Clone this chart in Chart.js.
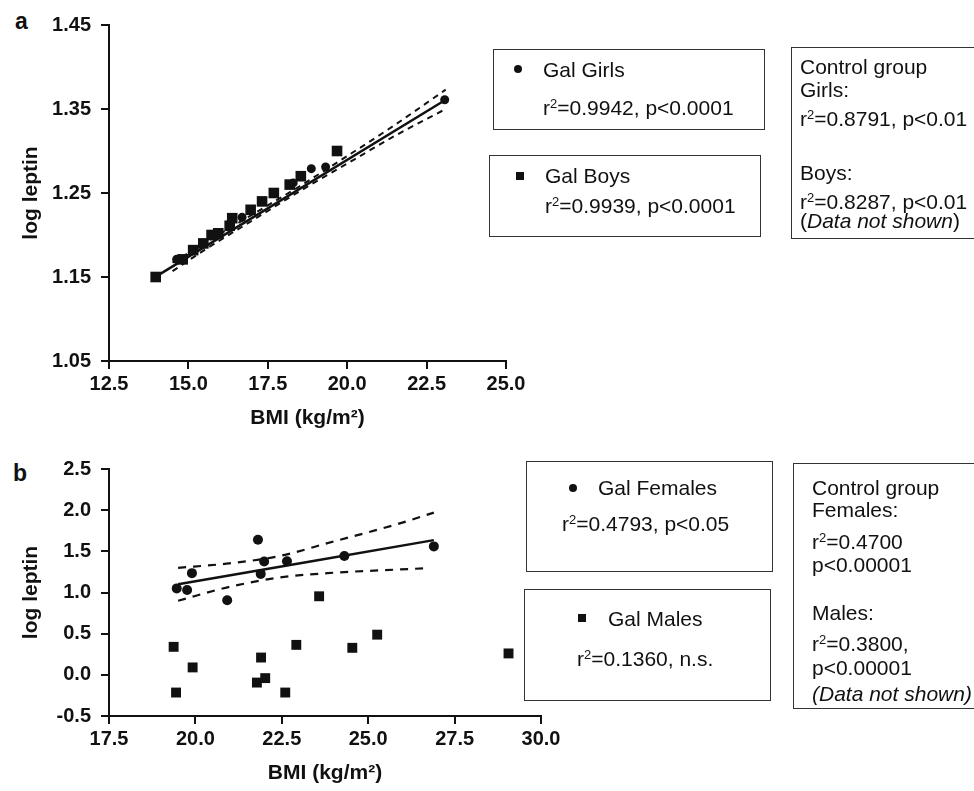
<!DOCTYPE html>
<html lang="en">
<head>
<meta charset="UTF-8">
<title>log leptin vs BMI</title>
<style>
  body {
    margin: 0;
    background: #fff;
    width: 974px;
    height: 791px;
    position: relative;
    overflow: hidden;
    font-family: "Liberation Sans", Arial, sans-serif;
    color: #111;
  }
  .wrap { position: absolute; }
  .box { position: absolute; border: 1.5px solid #333; box-sizing: border-box; }
  .t { position: absolute; font-size: 21px; line-height: 21px; white-space: nowrap; }
  .t sup { font-size: 0.62em; line-height: 0; vertical-align: 0.55em; }
  .panel { position: absolute; font-weight: bold; font-size: 23px; line-height: 23px; }
  .dot { position: absolute; width: 8px; height: 8px; border-radius: 50%; background: #111; }
  .sq { position: absolute; width: 8px; height: 8px; background: #111; }
</style>
<script src="https://cdn.jsdelivr.net/npm/chart.js"></script>
</head>
<body>

<div class="panel" style="left:15px; top:10px;">a</div>
<div class="panel" style="left:13px; top:462px;">b</div>

<div class="wrap" style="left:0; top:0;"><canvas id="chartA" width="560" height="440"></canvas></div>
<div class="wrap" style="left:0; top:430px;"><canvas id="chartB" width="600" height="361"></canvas></div>

<!-- panel a legend boxes -->
<div class="box" style="left:493px; top:49px; width:272px; height:81px;"></div>
<div class="dot" style="left:514px; top:65px;"></div>
<div class="t" style="left:543px; top:59px;">Gal Girls</div>
<div class="t" style="left:543px; top:97px;">r<sup>2</sup>=0.9942, p&lt;0.0001</div>

<div class="box" style="left:489px; top:155px; width:272px; height:82px;"></div>
<div class="sq" style="left:516px; top:172px;"></div>
<div class="t" style="left:545px; top:165px;">Gal Boys</div>
<div class="t" style="left:545px; top:195px;">r<sup>2</sup>=0.9939, p&lt;0.0001</div>

<div class="box" style="left:791px; top:47px; width:200px; height:192px;"></div>
<div class="t" style="left:800px; top:56px;">Control group</div>
<div class="t" style="left:800px; top:79px;">Girls:</div>
<div class="t" style="left:800px; top:108px;">r<sup>2</sup>=0.8791, p&lt;0.01</div>
<div class="t" style="left:800px; top:162px;">Boys:</div>
<div class="t" style="left:800px; top:191px;">r<sup>2</sup>=0.8287, p&lt;0.01</div>
<div class="t" style="left:800px; top:210px;">(<i>Data not shown</i>)</div>

<!-- panel b legend boxes -->
<div class="box" style="left:526px; top:461px; width:247px; height:111px;"></div>
<div class="dot" style="left:569px; top:484px;"></div>
<div class="t" style="left:598px; top:477px;">Gal Females</div>
<div class="t" style="left:562px; top:513px;">r<sup>2</sup>=0.4793, p&lt;0.05</div>

<div class="box" style="left:524px; top:589px; width:247px; height:112px;"></div>
<div class="sq" style="left:578px; top:614px;"></div>
<div class="t" style="left:608px; top:608px;">Gal Males</div>
<div class="t" style="left:577px; top:648px;">r<sup>2</sup>=0.1360, n.s.</div>

<div class="box" style="left:793px; top:463px; width:200px; height:246px;"></div>
<div class="t" style="left:812px; top:477px;">Control group</div>
<div class="t" style="left:812px; top:499px;">Females:</div>
<div class="t" style="left:812px; top:531px;">r<sup>2</sup>=0.4700</div>
<div class="t" style="left:812px; top:554px;">p&lt;0.00001</div>
<div class="t" style="left:812px; top:602px;">Males:</div>
<div class="t" style="left:812px; top:633px;">r<sup>2</sup>=0.3800,</div>
<div class="t" style="left:812px; top:657px;">p&lt;0.00001</div>
<div class="t" style="left:812px; top:683px;"><i>(Data not shown)</i></div>

<script>
// ---- panel a: Gal girls / boys ----
const xTicksA = [12.5, 15.0, 17.5, 20.0, 22.5, 25.0];
const yTicksA = [1.05, 1.15, 1.25, 1.35, 1.45];

const girlsBMI    = [14.63, 16.69, 18.30, 18.87, 19.32, 23.07];
const girlsLeptin = [1.171, 1.221, 1.262, 1.279, 1.281, 1.361];

const boysBMI    = [13.97, 14.82, 15.15, 15.47, 15.73, 15.94, 16.30, 16.38, 16.96, 17.32, 17.69, 18.19, 18.54, 19.68];
const boysLeptin = [1.150, 1.171, 1.182, 1.190, 1.200, 1.202, 1.211, 1.220, 1.230, 1.240, 1.250, 1.260, 1.270, 1.300];

// fitted line and 95% bands
const fitA_x = [14.0, 23.1];
const fitA_y = [1.151, 1.361];
const bandA_x  = [14.5, 15.5, 17.0, 18.5, 20.0, 21.5, 23.1];
const bandA_hi = [1.167, 1.190, 1.224, 1.258, 1.294, 1.331, 1.373];
const bandA_lo = [1.157, 1.182, 1.217, 1.252, 1.285, 1.318, 1.350];

// ---- panel b: Gal females / males ----
const xTicksB = [17.5, 20.0, 22.5, 25.0, 27.5, 30.0];
const yTicksB = [-0.5, 0.0, 0.5, 1.0, 1.5, 2.0, 2.5];

const femalesBMI    = [19.46, 19.76, 19.90, 20.92, 21.81, 21.89, 21.99, 22.65, 24.31, 26.90];
const femalesLeptin = [1.05, 1.03, 1.235, 0.906, 1.64, 1.226, 1.376, 1.38, 1.443, 1.56];

const malesBMI    = [19.37, 19.44, 19.92, 21.78, 21.90, 22.02, 22.60, 22.92, 23.58, 24.54, 25.26, 29.06];
const malesLeptin = [0.34, -0.215, 0.09, -0.094, 0.21, -0.04, -0.215, 0.364, 0.954, 0.328, 0.488, 0.26];

const fitB_x = [19.5, 26.9];
const fitB_y = [1.10, 1.636];
const bandB_hi_x = [19.5, 20.9, 22.4, 24.0, 25.8, 26.9];
const bandB_hi   = [1.30, 1.35, 1.44, 1.62, 1.825, 1.97];
const bandB_lo_x = [19.5, 20.9, 22.4, 24.0, 25.4, 26.7];
const bandB_lo   = [0.90, 1.06, 1.18, 1.24, 1.27, 1.295];

const FONT = '"Liberation Sans", Arial, sans-serif';

function pts(xs, ys) {
    return xs.map((x, i) => ({ x: x, y: ys[i] }));
}

function pointSet(xs, ys, style, r) {
    return {
        data: pts(xs, ys),
        showLine: false,
        pointStyle: style,
        pointRadius: r,
        pointBackgroundColor: '#111',
        pointBorderColor: '#111',
        pointBorderWidth: 0
    };
}

function lineSet(xs, ys, width, dash) {
    return {
        data: pts(xs, ys),
        showLine: true,
        borderColor: '#111',
        borderWidth: width,
        borderDash: dash,
        pointRadius: 0,
        cubicInterpolationMode: 'monotone',
        fill: false
    };
}

function axis(min, max, tickList, digits, extra) {
    return Object.assign({
        type: 'linear',
        min: min,
        max: max,
        afterBuildTicks: s => { s.ticks = tickList.map(v => ({ value: v })); },
        ticks: {
            color: '#111',
            font: { family: FONT, size: 20, weight: 'bold' },
            callback: v => v.toFixed(digits)
        },
        grid: {
            display: true,
            drawOnChartArea: false,
            drawTicks: true,
            tickLength: 8,
            color: '#111',
            lineWidth: 2
        },
        border: { display: true, color: '#111', width: 2 }
    }, extra);
}

function makeChart(id, datasets, x, y, pad) {
    new Chart(document.getElementById(id), {
        type: 'scatter',
        data: { datasets: datasets },
        options: {
            responsive: false,
            animation: false,
            layout: { padding: pad },
            plugins: { legend: { display: false }, tooltip: { enabled: false } },
            scales: { x: x, y: y }
        }
    });
}

function xAxis(min, max, ticks) {
    const a = axis(min, max, ticks, 1, {
        title: {
            display: true,
            text: 'BMI (kg/m\u00b2)',
            color: '#111',
            font: { family: FONT, size: 21, weight: 'bold' },
            padding: { top: 0, bottom: 5 }
        },
        afterFit: s => { s.height = 75; }
    });
    a.ticks.padding = 3;
    return a;
}

function yAxis(min, max, ticks, digits) {
    const a = axis(min, max, ticks, digits, {
        title: {
            display: true,
            text: 'log leptin',
            color: '#111',
            font: { family: FONT, size: 21, weight: 'bold' },
            padding: { top: 19, bottom: 0 }
        },
        afterFit: s => { s.width = 109; }
    });
    a.ticks.padding = 10;
    return a;
}

makeChart('chartA', [
    pointSet(girlsBMI, girlsLeptin, 'circle', 4.5),
    pointSet(boysBMI, boysLeptin, 'rect', 7.5),
    lineSet(fitA_x, fitA_y, 2.5, []),
    lineSet(bandA_x, bandA_hi, 2, [6, 5]),
    lineSet(bandA_x, bandA_lo, 2, [6, 5])
], xAxis(12.5, 25.0, xTicksA), yAxis(1.05, 1.45, yTicksA, 2),
   { top: 25, left: 0, right: 54, bottom: 4 });

makeChart('chartB', [
    pointSet(femalesBMI, femalesLeptin, 'circle', 5),
    pointSet(malesBMI, malesLeptin, 'rect', 7),
    lineSet(fitB_x, fitB_y, 2.5, []),
    lineSet(bandB_hi_x, bandB_hi, 2.2, [8, 7]),
    lineSet(bandB_lo_x, bandB_lo, 2.2, [8, 7])
], xAxis(17.5, 30.0, xTicksB), yAxis(-0.5, 2.5, yTicksB, 1),
   { top: 39, left: 0, right: 59, bottom: 0 });
</script>
</body>
</html>
